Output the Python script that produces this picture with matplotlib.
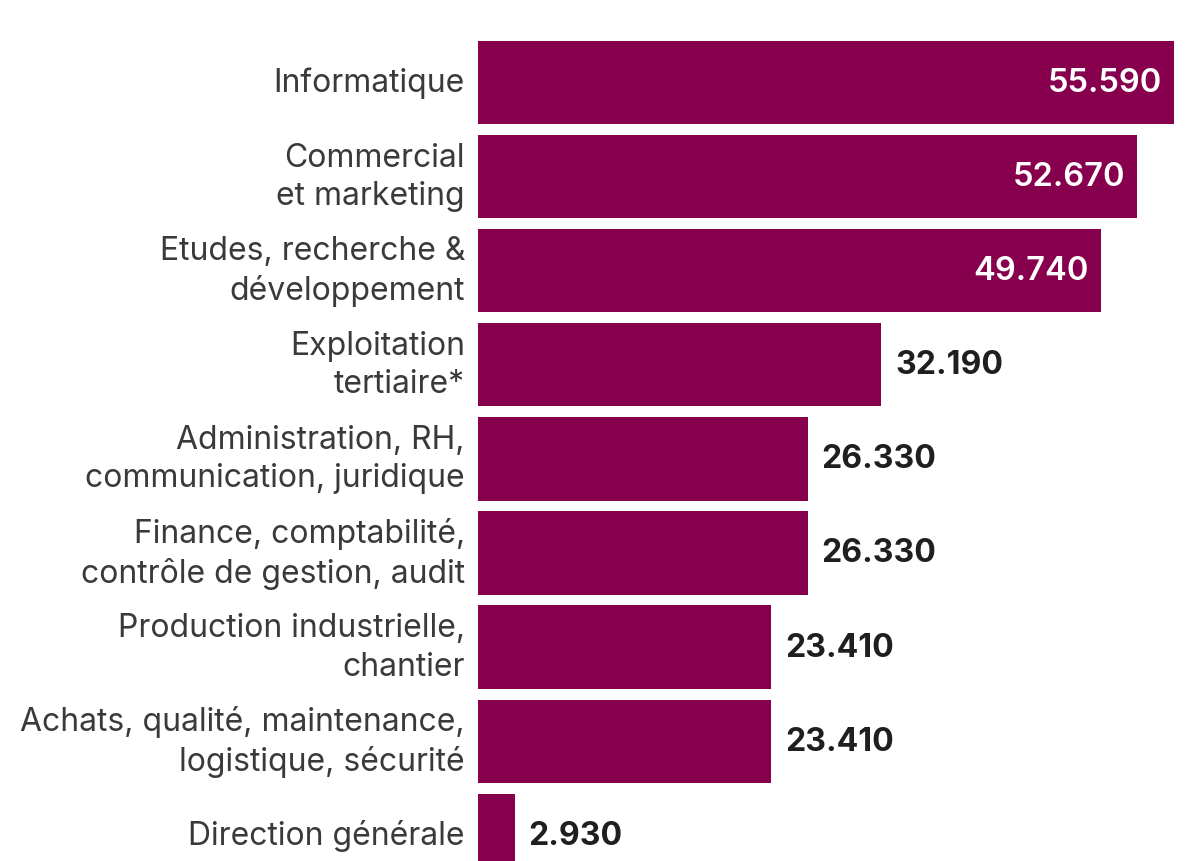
import matplotlib
matplotlib.use("Agg")
import matplotlib.pyplot as plt

categories = [
    "Informatique",
    "Commercial\net marketing",
    "Etudes, recherche &\ndéveloppement",
    "Exploitation\ntertiaire*",
    "Administration, RH,\ncommunication, juridique",
    "Finance, comptabilité,\ncontrôle de gestion, audit",
    "Production industrielle,\nchantier",
    "Achats, qualité, maintenance,\nlogistique, sécurité",
    "Direction générale",
]
values = [55590, 52670, 49740, 32190, 26330, 26330, 23410, 23410, 2930]
value_labels = ["55.590", "52.670", "49.740", "32.190", "26.330",
                "26.330", "23.410", "23.410", "2.930"]

BAR_COLOR = "#87004E"
LABEL_COLOR = "#3a3a3a"
VALUE_COLOR = "#1f1f1f"
FONT = ["Inter", "DejaVu Sans"]

W, H = 1198, 862
fig = plt.figure(figsize=(W / 100, H / 100), dpi=100)
fig.patch.set_facecolor("white")

left_px, right_px = 478, 1174
ax = fig.add_axes([left_px / W, 0, (right_px - left_px) / W, 1])
ax.set_xlim(0, max(values))

pitch = 94.1
first_center = 83.5
ax.set_ylim((H - first_center) / pitch, -first_center / pitch)

ypos = list(range(len(values)))
ax.barh(ypos, values, height=0.885, color=BAR_COLOR, edgecolor="none")

for y, v, lab, cat in zip(ypos, values, value_labels, categories):
    # category label left of the bar
    ax.annotate(cat, xy=(0, y), xytext=(-13, 0), textcoords="offset pixels",
                ha="right", va="center", fontsize=23, color=LABEL_COLOR,
                family=FONT, linespacing=1.3, multialignment="right")
    if v > 40000:
        ax.annotate(lab, xy=(v, y), xytext=(-12, 0), textcoords="offset pixels",
                    ha="right", va="center", fontsize=23.5, fontweight="semibold",
                    color="white", family=FONT)
    else:
        ax.annotate(lab, xy=(v, y), xytext=(14, 0), textcoords="offset pixels",
                    ha="left", va="center", fontsize=23, fontweight="bold",
                    color=VALUE_COLOR, family=FONT)

ax.axis("off")
fig.savefig("out.png", dpi=100, facecolor="white")
